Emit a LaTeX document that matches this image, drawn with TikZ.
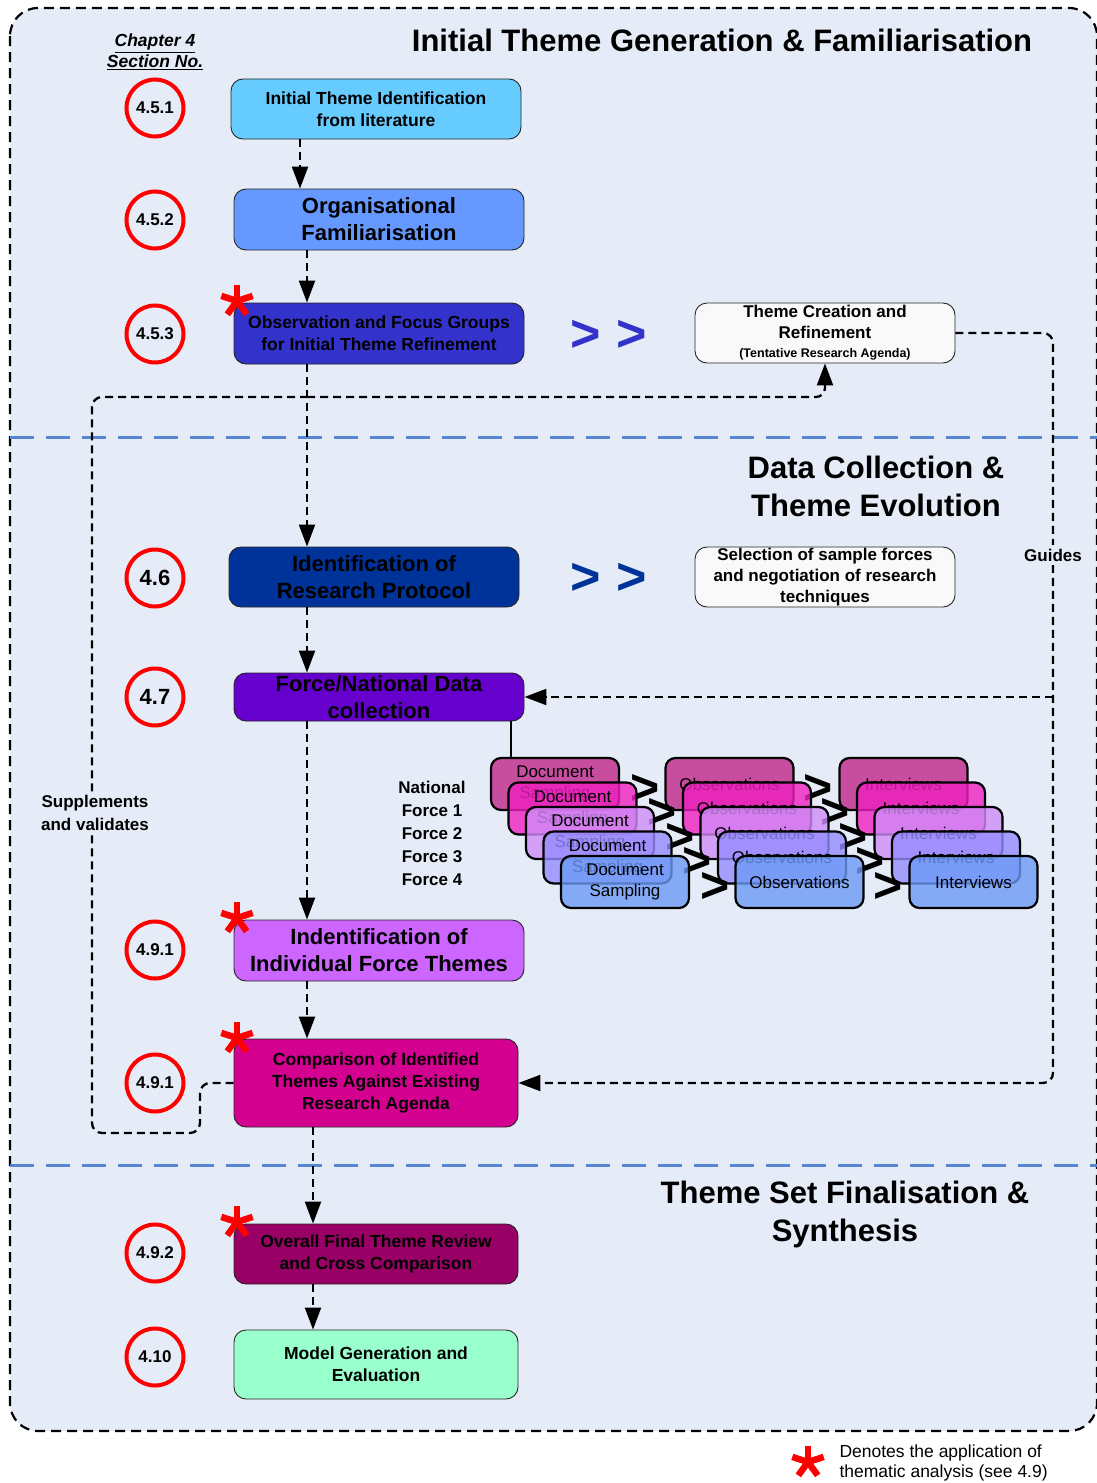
\documentclass[tikz,border=0pt]{standalone}
\usepackage{fontspec}
\setmainfont{Liberation Sans}
\usetikzlibrary{arrows.meta}

\newcommand\fsz[2]{\fontsize{#1}{#2}\selectfont}

\definecolor{bgblue}{HTML}{E6ECF7}
\definecolor{sepblue}{HTML}{5585CC}
\definecolor{sidefill}{HTML}{F9F9F9}
\definecolor{cA}{HTML}{66CCFF}
\definecolor{cB}{HTML}{6699FF}
\definecolor{cC}{HTML}{3333CC}
\definecolor{cD}{HTML}{003399}
\definecolor{cE}{HTML}{6600CC}
\definecolor{cF}{HTML}{CC66FF}
\definecolor{cG}{HTML}{D4008F}
\definecolor{cH}{HTML}{990066}
\definecolor{cI}{HTML}{99FFCC}
\definecolor{sA}{HTML}{C0268A}
\definecolor{sB}{HTML}{F020C0}
\definecolor{sC}{HTML}{D08CF8}
\definecolor{sD}{HTML}{948CFF}
\definecolor{sE}{HTML}{6C9AF6}

\tikzset{
  redast/.pic={\foreach \a in {90,18,162,234,306} \draw[red, line width=6.5pt] (0,0) -- (\a:16.5pt);},
}

\begin{document}
\begin{tikzpicture}[x=1pt,y=-1pt,
  stage/.style={draw=black!85, line width=0.9pt, rounded corners=12pt, align=center,
    inner sep=0pt, font=\bfseries\fsz{17.5}{22}, text=black},
  big/.style={font=\bfseries\fsz{22}{27}},
  side/.style={stage, fill=sidefill, font=\bfseries\fsz{17}{21}, minimum width=260pt, minimum height=60pt},
  secnum/.style={circle, draw=red, line width=4pt, minimum size=57pt, inner sep=0pt, font=\bfseries\fsz{17}{20}},
  link/.style={line width=2.3pt, dash pattern=on 8pt off 5pt},
  flow/.style={link, -{Triangle[length=22pt,width=16pt]}},
  stk/.style={draw=black, line width=2.2pt, rounded corners=10pt, fill opacity=0.8, text opacity=1,
    minimum width=128pt, minimum height=52pt, inner sep=0pt, align=center, font=\fsz{17}{21}},
  chev/.style={font=\bfseries\fsz{50}{50}, inner sep=0pt},
  bluechev/.style={font=\bfseries\fsz{52}{52}, inner sep=0pt},
  title/.style={font=\bfseries\fsz{31}{38}, align=center},
  lab/.style={font=\bfseries\fsz{17}{22.5}, align=center},
  phase/.style={sepblue, line width=3pt, dash pattern=on 24pt off 12pt},
]
\useasboundingbox (0,0) rectangle (1097,1483);
\fill[white] (0,0) rectangle (1097,1483);

% outer frame and phase separators
\draw[fill=bgblue, line width=2.2pt, dash pattern=on 10pt off 6pt, rounded corners=28pt] (10,8) rectangle (1097,1431);
\draw[phase] (10,437) -- (1097,437);
\draw[phase] (10,1165) -- (1097,1165);

% phase titles
\node[title] (t1title) at (722,40) {Initial Theme Generation \& Familiarisation};
\node[title] (t2title) at (876,486) {Data Collection \&\\Theme Evolution};
\node[title] (t3title) at (845,1214) {Theme Set Finalisation \&\\Synthesis};

\node[font=\bfseries\itshape\fsz{17.5}{21}, align=center] (chap) at (155,52) {\underline{Chapter 4}\\\underline{Section No.}};

% section numbers
\node[secnum] (n1) at (155,108) {4.5.1};
\node[secnum] (n2) at (155,220) {4.5.2};
\node[secnum] (n3) at (155,334) {4.5.3};
\node[secnum, font=\bfseries\fsz{22}{24}] (n4) at (155,578) {4.6};
\node[secnum, font=\bfseries\fsz{22}{24}] (n5) at (155,697) {4.7};
\node[secnum] (n6) at (155,950) {4.9.1};
\node[secnum] (n7) at (155,1083) {4.9.1};
\node[secnum] (n8) at (155,1253) {4.9.2};
\node[secnum] (n9) at (155,1357) {4.10};

% process stages
\node[stage, fill=cA, minimum width=290pt, minimum height=60pt] (b1) at (376,109) {Initial Theme Identification\\from literature};
\node[stage, big, fill=cB, minimum width=290pt, minimum height=61pt] (b2) at (379,219.5) {Organisational\\Familiarisation};
\node[stage, fill=cC, minimum width=290pt, minimum height=61pt] (b3) at (379,333.5) {Observation and Focus Groups\\for Initial Theme Refinement};
\node[stage, big, fill=cD, minimum width=290pt, minimum height=60pt] (b4) at (374,577) {Identification of\\Research Protocol};
\node[stage, big, fill=cE, minimum width=290pt, minimum height=48pt] (b5) at (379,697) {Force/National Data\\collection};
\node[stage, big, fill=cF, minimum width=290pt, minimum height=61pt] (b6) at (379,950.5) {Indentification of\\Individual Force Themes};
\node[stage, fill=cG, minimum width=284pt, minimum height=88pt] (b7) at (376,1083) {Comparison of Identified\\Themes Against Existing\\Research Agenda};
\node[stage, fill=cH, minimum width=284pt, minimum height=60pt] (b8) at (376,1254) {Overall Final Theme Review\\and Cross Comparison};
\node[stage, fill=cI, minimum width=284pt, minimum height=69pt] (b9) at (376,1364.5) {Model Generation and\\Evaluation};

% side notes
\node[side] (tc) at (825,333) {Theme Creation and\\Refinement\\[-2pt]{\fsz{12.5}{14}(Tentative Research Agenda)}};
\node[side] (sel) at (825,577) {Selection of sample forces\\and negotiation of research\\techniques};

\node[bluechev, text=cC] (ba1) at (586,336) {>};
\node[bluechev, text=cC] (ba2) at (632,336) {>};
\node[bluechev, text=cD] (bb1) at (586,579) {>};
\node[bluechev, text=cD] (bb2) at (632,579) {>};

% thematic analysis markers
\pic at (237,301) {redast};
\pic at (237,918) {redast};
\pic at (237,1038) {redast};
\pic at (237,1222) {redast};

% main flow
\draw[flow] ([xshift=-76pt]b1.south) -- ([xshift=-76pt]b1.south |- b2.north);
\draw[flow] ([xshift=-72pt]b2.south) -- ([xshift=-72pt]b2.south |- b3.north);
\draw[flow] ([xshift=-72pt]b3.south) -- ([xshift=-72pt]b3.south |- b4.north);
\draw[flow] ([xshift=-67pt]b4.south) -- ([xshift=-67pt]b4.south |- b5.north);
\draw[flow] ([xshift=-72pt]b5.south) -- ([xshift=-72pt]b5.south |- b6.north);
\draw[flow] ([xshift=-72pt]b6.south) -- ([xshift=-72pt]b6.south |- b7.north);
\draw[flow] ([xshift=-63pt]b7.south) -- ([xshift=-63pt]b7.south |- b8.north);
\draw[flow] ([xshift=-63pt]b8.south) -- ([xshift=-63pt]b8.south |- b9.north);

% feedback loops
\coordinate (j1) at (307,397);
\coordinate (s1) at (200,1133);
\coordinate (s2) at (92,1133);
\coordinate (s3) at (92,397);
\coordinate (g1) at (1053,697);
\coordinate (g2) at (1053,1083);
\draw[flow, rounded corners=9pt] (j1) -- (tc.south |- j1) -- (tc.south);
\draw[link, rounded corners=10pt] (b7.west) -| (s1) -- (s2) -- (s3) -- (j1);
\draw[flow, rounded corners=10pt] (tc.east) -| (g2) -- (b7.east);
\draw[flow] (g1) -- (b5.east);
\node[lab, fill=bgblue, inner sep=3pt] (sup) at (95,813) {Supplements\\and validates};
\node[lab, fill=bgblue, inner sep=4pt] (gd) at (1053,555) {Guides};

% per-force data collection
\node[lab, align=center, font=\bfseries\fsz{17}{23}] (forces) at (432,833.5) {National\\Force 1\\Force 2\\Force 3\\Force 4};

\foreach \i/\col in {0/sA,1/sB,2/sC,3/sD,4/sE} {
  \pgfmathsetmacro\dx{17.5*\i}
  \pgfmathsetmacro\dy{24.5*\i}
  \node[stk, fill=\col] (d\i) at ({555+\dx},{784+\dy}) {Document\\Sampling};
  \node[stk, fill=\col] (o\i) at ({729.5+\dx},{784+\dy}) {Observations};
  \node[stk, fill=\col] (v\i) at ({903.5+\dx},{784+\dy}) {Interviews};
  \node[chev] (ga\i) at ({645+\dx},{789+\dy}) {>};
  \node[chev] (gb\i) at ({818+\dx},{789+\dy}) {>};
}
\draw[line width=1.5pt] ([xshift=132pt]b5.south) -- ([xshift=132pt]b5.south |- d0.north);

% legend
\pic at (808,1462) {redast};
\node[anchor=west, align=left, font=\fsz{17.5}{20.5}] (leg) at (836,1463) {Denotes the application of\\thematic analysis (see 4.9)};
\end{tikzpicture}
\end{document}
